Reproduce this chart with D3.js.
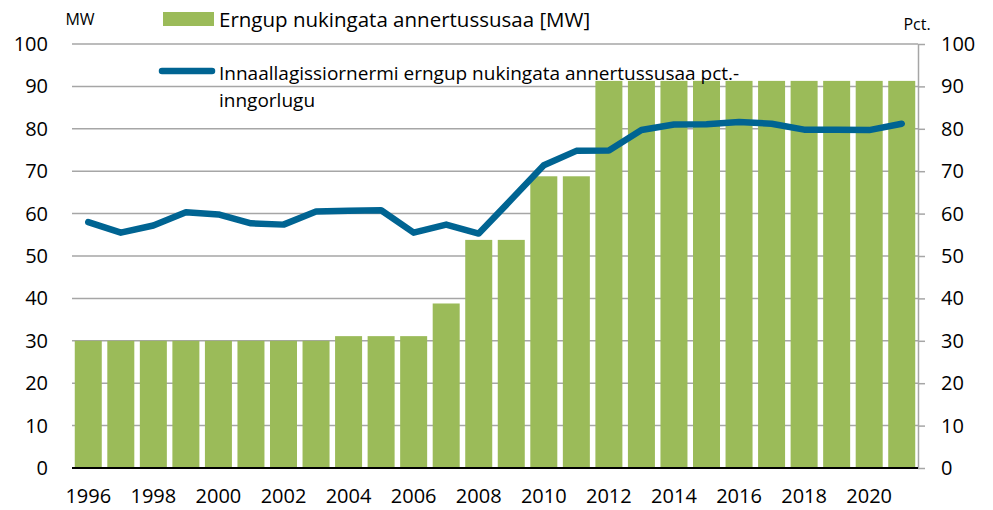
<!DOCTYPE html>
<html>
<head>
<meta charset="utf-8">
<script src="https://d3js.org/d3.v7.min.js"></script>
<style>
body { margin: 0; background: #fff; }
svg { display: block; font-family: "Open Sans", sans-serif; }
</style>
</head>
<body>
<div id="chart"></div>
<script>
var years = d3.range(1996, 2022);
var capacityMW = [30, 30, 30, 30, 30, 30, 30, 30, 31.1, 31.1, 31.1, 38.8, 53.8, 53.8, 68.8, 68.8,
  91.3, 91.3, 91.3, 91.3, 91.3, 91.3, 91.3, 91.3, 91.3, 91.3];
var sharePct = [58.0, 55.5, 57.2, 60.3, 59.8, 57.7, 57.4, 60.5, 60.7, 60.8, 55.5, 57.4, 55.3, 63.3,
  71.4, 74.8, 74.9, 79.7, 81.0, 81.1, 81.6, 81.2, 79.8, 79.8, 79.7, 81.2];
var yTicks = d3.range(0, 101, 10);
var labelYears = d3.range(1996, 2021, 2);

var width = 993, height = 510;
var plotLeft = 72, plotRight = 918, plotTop = 44, plotBottom = 468;

var svg = d3.select("#chart").append("svg")
  .attr("width", width).attr("height", height);

var x = d3.scaleBand().domain(years).range([plotLeft, plotRight]).paddingInner(0.17).paddingOuter(0.085);
var yL = d3.scaleLinear().domain([0, 100]).range([plotBottom, plotTop]);
var yR = d3.scaleLinear().domain([0, 100]).range([plotBottom, plotTop]);

// gridlines
svg.append("g").selectAll("line").data(yTicks.filter(d => d > 0)).enter()
  .append("line")
  .attr("x1", plotLeft).attr("x2", plotRight)
  .attr("y1", d => yL(d)).attr("y2", d => yL(d))
  .style("stroke", "#a6a6a6").style("stroke-width", 1.5);

// bars
svg.append("g").selectAll("rect").data(capacityMW).enter()
  .append("rect")
  .attr("x", (d, i) => x(years[i]))
  .attr("width", x.bandwidth())
  .attr("y", d => yL(d))
  .attr("height", d => plotBottom - yL(d))
  .style("fill", "#9bbb59");

// left axis (labels only)
var leftAxis = svg.append("g")
  .attr("transform", "translate(" + plotLeft + ",0)")
  .call(d3.axisLeft(yL).tickValues(yTicks).tickSize(0).tickPadding(24));
leftAxis.select(".domain").remove();

// right axis
var rightAxis = svg.append("g")
  .attr("transform", "translate(" + plotRight + ",0)")
  .call(d3.axisRight(yR).tickValues(yTicks).tickSize(7).tickSizeOuter(0).tickPadding(16));
rightAxis.select(".domain").style("stroke", "#a6a6a6").style("stroke-width", 1.5);
rightAxis.selectAll(".tick line").style("stroke", "#a6a6a6").style("stroke-width", 1.5);

svg.selectAll(".tick text").style("font-size", "20px").style("fill", "#000")
  .style("font-family", "'Open Sans', sans-serif");

// x axis
svg.append("line")
  .attr("x1", plotLeft).attr("x2", plotRight)
  .attr("y1", plotBottom).attr("y2", plotBottom)
  .style("stroke", "#000").style("stroke-width", 2);

svg.append("g").selectAll("text").data(labelYears).enter()
  .append("text")
  .attr("x", d => x(d) + x.bandwidth() / 2)
  .attr("y", 503)
  .attr("text-anchor", "middle")
  .style("font-size", "20px")
  .text(d => d);

// line
var line = d3.line()
  .x((d, i) => x(years[i]) + x.bandwidth() / 2)
  .y(d => yR(d));

svg.append("path").datum(sharePct)
  .attr("d", line)
  .style("fill", "none")
  .style("stroke", "#006492")
  .style("stroke-width", 6.5)
  .style("stroke-linejoin", "round")
  .style("stroke-linecap", "round");

// unit labels
svg.append("text").attr("x", 80).attr("y", 25).attr("text-anchor", "middle")
  .style("font-size", "16px").text("MW");
svg.append("text").attr("x", 917).attr("y", 30).attr("text-anchor", "middle")
  .style("font-size", "16px").text("Pct.");

// legend
svg.append("rect").attr("x", 163).attr("y", 12).attr("width", 51).attr("height", 14)
  .style("fill", "#9bbb59");
svg.append("text").attr("x", 219).attr("y", 27).style("font-size", "20.5px")
  .text("Erngup nukingata annertussusaa [MW]");
svg.append("line").attr("x1", 162).attr("x2", 212).attr("y1", 71).attr("y2", 71)
  .style("stroke", "#006492").style("stroke-width", 6.5).style("stroke-linecap", "round");
svg.append("text").attr("x", 219).attr("y", 80).style("font-size", "19px")
  .text("Innaallagissiornermi erngup nukingata annertussusaa pct.-");
svg.append("text").attr("x", 219).attr("y", 107).style("font-size", "19px")
  .text("inngorlugu");
</script>
</body>
</html>
